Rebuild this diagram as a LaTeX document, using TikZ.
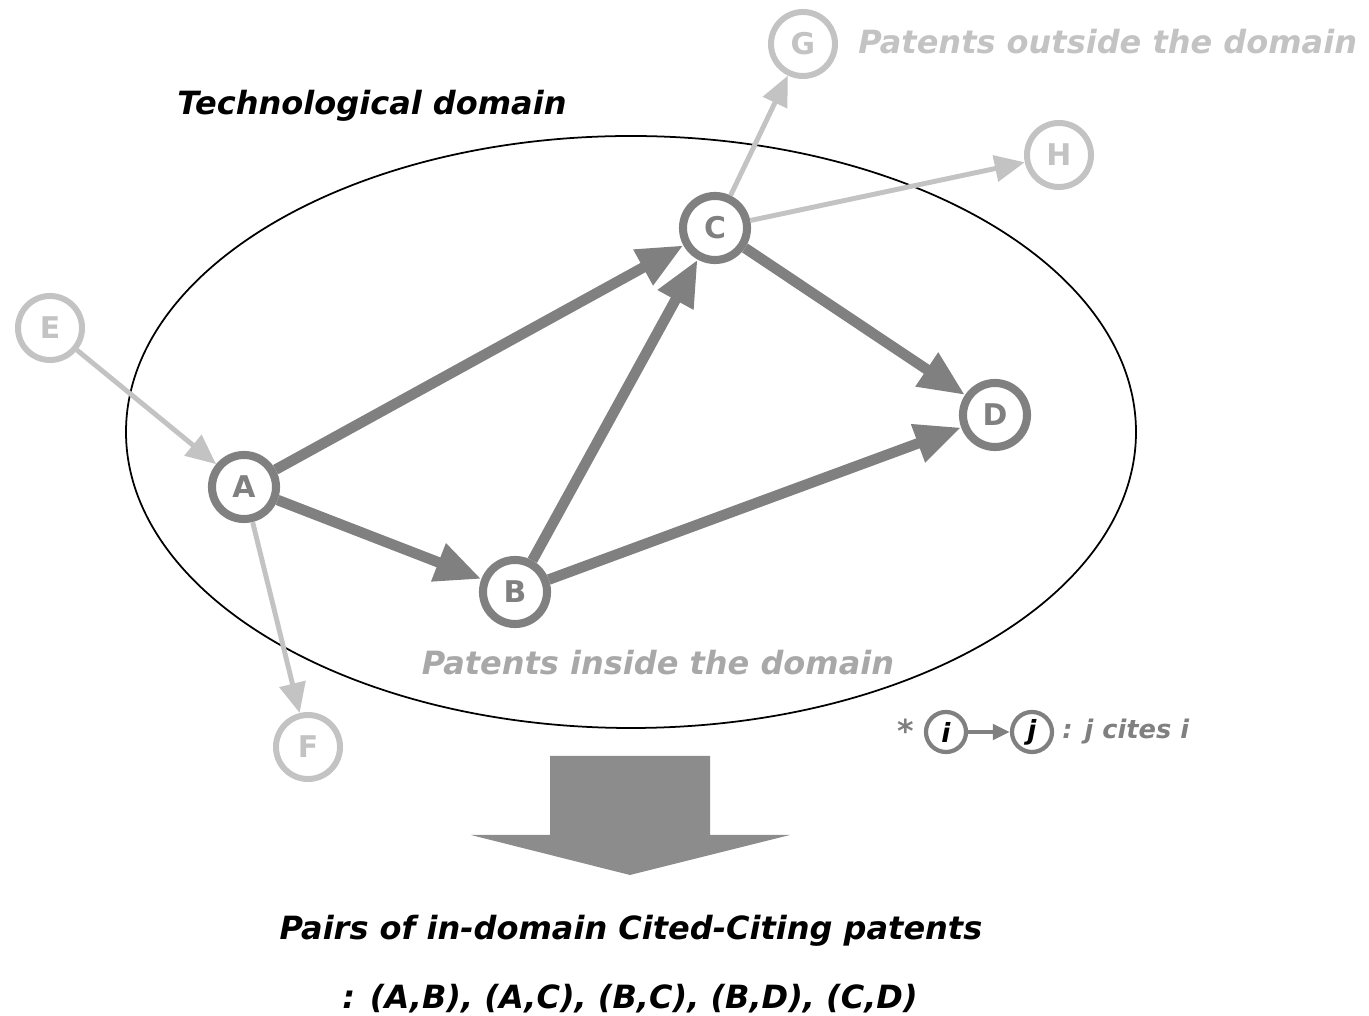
\documentclass[tikz,border=0pt]{standalone}
\usepackage{fontspec}
\setmainfont{DejaVu Sans}
\usetikzlibrary{arrows.meta}
\definecolor{darkgr}{HTML}{808080}
\definecolor{lightgr}{HTML}{C3C3C3}
\definecolor{textgr}{HTML}{A8A8A8}
\definecolor{bigarrow}{HTML}{8C8C8C}

\begin{document}
\begin{tikzpicture}[x=0.01cm,y=-0.01cm,
	every node/.style={font=\fontsize{8.5}{9}\selectfont\bfseries},
	inpat/.style={circle, draw=darkgr, line width=2.3pt, minimum size=0.64cm, inner sep=0pt, text=darkgr, fill=white},
	outpat/.style={inpat, draw=lightgr, line width=1.7pt, text=lightgr},
	cite/.style={draw=darkgr, line width=3pt, -{Triangle[length=0.46cm,width=0.38cm]}},
	lcite/.style={draw=lightgr, line width=1.4pt, -{Triangle[length=0.3cm,width=0.26cm]}},
	title/.style={font=\fontsize{9.1}{10}\selectfont\bfseries\itshape}]
	\useasboundingbox (0,0) rectangle (1369,1016);
	% technological domain
	\draw[line width=0.5pt] (631,432) ellipse [x radius=505, y radius=296];
	\node[title] (dom) at (372,106) {Technological domain};
	% patents
	\node[inpat] (A) at (244,487) {A};
	\node[inpat] (B) at (515,592) {B};
	\node[inpat] (C) at (715,228) {C};
	\node[inpat] (D) at (995,415) {D};
	\node[outpat] (E) at (50,328) {E};
	\node[outpat] (F) at (308,747) {F};
	\node[outpat] (G) at (803,44) {G};
	\node[outpat] (H) at (1059,155) {H};
	% citations
	\draw[cite] (A) -- (C);
	\draw[cite] (A) -- (B);
	\draw[cite] (B) -- (C);
	\draw[cite] (B) -- (D);
	\draw[cite] (C) -- (D);
	\draw[lcite] (E) -- (A);
	\draw[lcite] (A) -- (F);
	\draw[lcite] (C) -- (G);
	\draw[lcite] (C) -- (H);
	\node[title, text=lightgr, anchor=west] (outside) at (846,42) {Patents outside the domain};
	\node[title, text=textgr] (inside) at (658,663) {Patents inside the domain};
	% legend
	\node[text=darkgr, font=\fontsize{9}{10}\selectfont\bfseries] (star) at (906,731) {*};
	\node[inpat, minimum size=0.4cm, line width=1.2pt, text=black, font=\fontsize{7.5}{8}\selectfont\bfseries\itshape] (i) at (946,732) {i};
	\node[inpat, minimum size=0.4cm, line width=1.2pt, text=black, font=\fontsize{7.5}{8}\selectfont\bfseries\itshape] (j) at (1032,732) {j};
	\draw[draw=darkgr, line width=1.3pt, -{Triangle[length=0.17cm,width=0.15cm]}] (i) -- (j);
	\node[text=darkgr, anchor=west, font=\fontsize{7.3}{8}\selectfont\bfseries\itshape] (cites) at (1050,732) {: j cites i};
	% summary
	\fill[bigarrow] (550,756) -- (710,756) -- (710,835) -- (790,835) -- (630,875) -- (471,835) -- (550,835) -- cycle;
	\node[title] (pairs) at (631,931) {Pairs of in-domain Cited-Citing patents};
	\node[title] (list) at (630,999) {: (A,B), (A,C), (B,C), (B,D), (C,D)};
\end{tikzpicture}
\end{document}
